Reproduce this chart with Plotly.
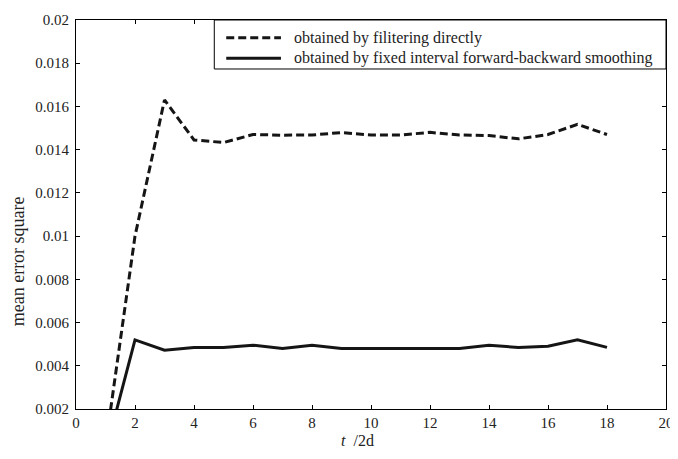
import plotly.graph_objects as go

t = list(range(1, 19))
filtering = [0.0003, 0.0100, 0.0163, 0.01445, 0.01433, 0.0147, 0.01467, 0.01468, 0.01479,
             0.01468, 0.01468, 0.0148, 0.01468, 0.01465, 0.0145, 0.0147, 0.01517, 0.0147]
smoothing = [0.0000, 0.0052, 0.00472, 0.00485, 0.00485, 0.00495, 0.0048, 0.00495, 0.0048,
             0.0048, 0.0048, 0.00477, 0.0048, 0.00495, 0.00485, 0.0049, 0.0052, 0.00485]
legend_labels = ["obtained by filitering directly",
                 "obtained by fixed interval forward-backward smoothing"]
x_ticks = list(range(0, 21, 2))
y_ticks = [0.002, 0.004, 0.006, 0.008, 0.010, 0.012, 0.014, 0.016, 0.018, 0.020]
y_ticktext = ["0.002", "0.004", "0.006", "0.008", "0.01", "0.012",
              "0.014", "0.016", "0.018", "0.02"]

FONT = "Liberation Serif"
TXT = "#222222"
LINE = "#151515"
DASH = "8px,4px"

# the page body has an 8px margin; lay out in window pixels and compensate
OFF = 8
WIN_W, WIN_H = 678, 459
AX_L, AX_R, AX_T, AX_B = 76, 669, 12, 409
W, H = WIN_W - OFF, WIN_H - OFF
L, T = AX_L - OFF, AX_T - OFF
R, B = WIN_W - AX_R, WIN_H - AX_B
PW, PH = AX_R - AX_L, AX_B - AX_T

def px(x):
    return (x - AX_L) / PW

def py(y):
    return (AX_B - y) / PH

fig = go.Figure()
fig.add_trace(go.Scatter(x=t, y=filtering, mode="lines", name=legend_labels[0],
                         line=dict(color=LINE, width=3, dash=DASH), showlegend=False))
fig.add_trace(go.Scatter(x=t, y=smoothing, mode="lines", name=legend_labels[1],
                         line=dict(color=LINE, width=3), showlegend=False))

axis_common = dict(showline=True, linecolor="black", linewidth=1, mirror="ticks",
                   ticks="inside", ticklen=4, tickcolor="black", showgrid=False,
                   zeroline=False, ticklabeloverflow="allow",
                   tickfont=dict(family=FONT, size=15, color=TXT))
fig.update_xaxes(range=[0, 20], tickmode="array", tickvals=x_ticks, **axis_common)
fig.update_yaxes(range=[0.002, 0.02], tickmode="array", tickvals=y_ticks,
                 ticktext=y_ticktext, ticklabelstandoff=3, **axis_common)

# legend box
shapes = [dict(type="rect", xref="paper", yref="paper", x0=px(215), x1=px(669),
               y0=py(62), y1=py(12), line=dict(color="black", width=1),
               fillcolor="white", layer="above")]
rows = [(30, DASH), (51, "solid")]
annotations = []
for (yy, dash), lab in zip(rows, legend_labels):
    shapes.append(dict(type="line", xref="paper", yref="paper", x0=px(227), x1=px(282),
                       y0=py(yy), y1=py(yy), line=dict(color=LINE, width=3, dash=dash),
                       layer="above"))
    annotations.append(dict(xref="paper", yref="paper", x=px(293), y=py(yy), text=lab,
                            showarrow=False, xanchor="left", yanchor="middle",
                            font=dict(family=FONT, size=16, color=TXT)))
annotations.append(dict(xref="paper", yref="paper", x=px(359), y=py(441),
                        text="<i>t</i>  /2d", showarrow=False, xanchor="center",
                        yanchor="middle", font=dict(family=FONT, size=16, color=TXT)))
annotations.append(dict(xref="paper", yref="paper", x=px(18), y=py(258),
                        text="mean error square", textangle=-90, showarrow=False,
                        xanchor="center", yanchor="middle",
                        font=dict(family=FONT, size=18, color=TXT)))

fig.update_layout(width=W, height=H, margin=dict(l=L, r=R, t=T, b=B),
                  paper_bgcolor="white", plot_bgcolor="white", showlegend=False,
                  shapes=shapes, annotations=annotations)
fig.write_html("out.html")
